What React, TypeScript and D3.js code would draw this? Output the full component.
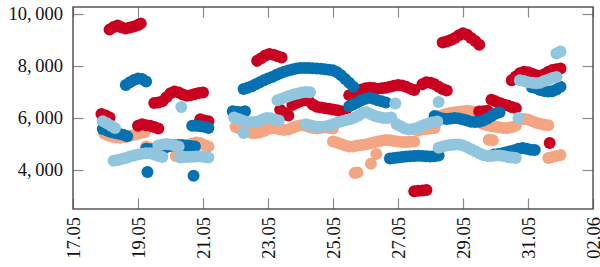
import { useEffect, useRef } from "react";
import * as d3 from "d3";

type Pt = [string, number];

const xTickLabels = ["17.05", "19.05", "21.05", "23.05", "25.05", "27.05", "29.05", "31.05", "02.06"];
const yTickValues = [4000, 6000, 8000, 10000];

// order = draw order (later on top)
const seriesNames = ["salmon", "red", "darkBlue", "lightBlue"];
const seriesColors = ["#f4a582", "#ca0020", "#0571b0", "#92c5de"];

const red: Pt[] = [
  ["17.05 21", 6150], ["18.05 00", 6100], ["18.05 03", 6020],
  ["18.05 03", 9400], ["18.05 06", 9500], ["18.05 09", 9560], ["18.05 12", 9480], ["18.05 15", 9440], ["18.05 18", 9480], ["18.05 21", 9520], ["19.05 00", 9580], ["19.05 02", 9640],
  ["19.05 00", 5700], ["19.05 03", 5760], ["19.05 06", 5720], ["19.05 09", 5700], ["19.05 12", 5650], ["19.05 15", 5600],
  ["19.05 12", 6580], ["19.05 15", 6600], ["19.05 18", 6640], ["19.05 21", 6800], ["20.05 00", 6950], ["20.05 03", 7020], ["20.05 06", 6980], ["20.05 09", 6900], ["20.05 12", 6860], ["20.05 15", 6880], ["20.05 18", 6920], ["20.05 21", 6960], ["21.05 00", 6980],
  ["20.05 22", 5950], ["21.05 01", 5900], ["21.05 04", 5880],
  ["22.05 16", 8200], ["22.05 19", 8300], ["22.05 22", 8400], ["23.05 01", 8460], ["23.05 04", 8430], ["23.05 07", 8380], ["23.05 10", 8330],
  ["23.05 09", 6320], ["23.05 12", 6200], ["23.05 15", 6100],
  ["23.05 18", 6500], ["23.05 21", 6580], ["24.05 00", 6640], ["24.05 03", 6680], ["24.05 06", 6660], ["24.05 09", 6520], ["24.05 12", 6430], ["24.05 15", 6400], ["24.05 18", 6380], ["24.05 21", 6360], ["25.05 00", 6330], ["25.05 03", 6300], ["25.05 06", 6260], ["25.05 09", 6230],
  ["25.05 12", 6880], ["25.05 15", 6960], ["25.05 18", 7040], ["25.05 21", 7100], ["26.05 00", 7140], ["26.05 03", 7160], ["26.05 06", 7150], ["26.05 09", 7130], ["26.05 12", 7140], ["26.05 15", 7160], ["26.05 18", 7200], ["26.05 21", 7240], ["27.05 00", 7270], ["27.05 03", 7250], ["27.05 06", 7200], ["27.05 09", 7130], ["27.05 12", 7080],
  ["27.05 12", 3180], ["27.05 15", 3200], ["27.05 18", 3210], ["27.05 21", 3230],
  ["27.05 18", 7300], ["27.05 21", 7380], ["28.05 00", 7360], ["28.05 03", 7300], ["28.05 06", 7200], ["28.05 09", 7120], ["28.05 12", 7060],
  ["28.05 09", 8900], ["28.05 12", 8940], ["28.05 15", 9000], ["28.05 18", 9080], ["28.05 21", 9180], ["29.05 00", 9260], ["29.05 03", 9200], ["29.05 06", 9080], ["29.05 09", 8960], ["29.05 12", 8820],
  ["29.05 12", 6250], ["29.05 15", 6260], ["29.05 18", 6280],
  ["29.05 21", 6700], ["30.05 00", 6640], ["30.05 03", 6580], ["30.05 06", 6520], ["30.05 09", 6480], ["30.05 12", 6420], ["30.05 15", 6380],
  ["30.05 12", 7450], ["30.05 15", 7600], ["30.05 18", 7720], ["30.05 21", 7780], ["31.05 00", 7760], ["31.05 03", 7700], ["31.05 06", 7640], ["31.05 09", 7620], ["31.05 12", 7680], ["31.05 15", 7780], ["31.05 18", 7850], ["31.05 21", 7880], ["01.06 00", 7900],
  ["31.05 16", 5040],
];

const salmon: Pt[] = [
  ["17.05 23", 5400], ["18.05 02", 5330], ["18.05 05", 5280], ["18.05 08", 5250], ["18.05 11", 5240], ["18.05 14", 5260], ["18.05 17", 5300], ["18.05 20", 5340], ["18.05 23", 5380], ["19.05 02", 5420], ["19.05 05", 5450],
  ["19.05 06", 4900], ["19.05 09", 4850], ["19.05 12", 4800], ["19.05 15", 4760], ["19.05 18", 4720],
  ["20.05 04", 4540], ["20.05 07", 4700], ["20.05 10", 4850], ["20.05 13", 4950], ["20.05 16", 5020], ["20.05 19", 5060], ["20.05 22", 5040], ["21.05 01", 4960], ["21.05 04", 4900],
  ["22.05 00", 5650], ["22.05 03", 5600], ["22.05 06", 5520], ["22.05 09", 5460], ["22.05 12", 5420], ["22.05 15", 5420], ["22.05 18", 5440], ["22.05 21", 5500], ["23.05 00", 5580], ["23.05 03", 5620], ["23.05 06", 5600], ["23.05 09", 5560], ["23.05 12", 5540], ["23.05 15", 5560], ["23.05 18", 5620], ["23.05 21", 5680], ["24.05 00", 5720], ["24.05 03", 5700], ["24.05 06", 5660], ["24.05 09", 5620], ["24.05 12", 5600], ["24.05 15", 5620], ["24.05 18", 5640], ["24.05 21", 5620], ["25.05 00", 5600],
  ["25.05 00", 5100], ["25.05 03", 5060], ["25.05 06", 5000], ["25.05 09", 4940], ["25.05 12", 4900], ["25.05 15", 4900], ["25.05 18", 4940], ["25.05 21", 4960], ["26.05 00", 4980], ["26.05 03", 5020], ["26.05 06", 5060], ["26.05 09", 5100], ["26.05 12", 5130], ["26.05 15", 5150], ["26.05 18", 5140], ["26.05 21", 5120], ["27.05 00", 5100], ["27.05 03", 5080], ["27.05 06", 5080], ["27.05 09", 5090], ["27.05 12", 5100],
  ["25.05 16", 3880], ["25.05 18", 3900], ["26.05 04", 4240], ["26.05 08", 4620],
  ["27.05 15", 5520], ["27.05 18", 5560], ["27.05 21", 5580], ["28.05 00", 5600], ["28.05 03", 5620],
  ["28.05 06", 6080], ["28.05 09", 6120], ["28.05 12", 6160], ["28.05 15", 6200], ["28.05 18", 6220], ["28.05 21", 6240], ["29.05 00", 6260], ["29.05 03", 6280], ["29.05 06", 6260], ["29.05 09", 6220],
  ["29.05 15", 5760], ["29.05 18", 5720], ["29.05 21", 5680], ["30.05 00", 5660], ["30.05 03", 5640], ["30.05 06", 5620], ["30.05 09", 5620], ["30.05 12", 5640], ["30.05 15", 5700],
  ["30.05 21", 5960], ["31.05 00", 5940], ["31.05 03", 5880], ["31.05 06", 5820], ["31.05 09", 5780], ["31.05 12", 5740], ["31.05 15", 5720],
  ["29.05 19", 5160], ["29.05 22", 5140],
  ["31.05 15", 4460], ["31.05 18", 4500], ["31.05 21", 4540], ["01.06 00", 4580],
];

const darkBlue: Pt[] = [
  ["17.05 22", 5580], ["18.05 01", 5520], ["18.05 04", 5460], ["18.05 07", 5420], ["18.05 10", 5390], ["18.05 13", 5360], ["18.05 16", 5300],
  ["18.05 15", 7270], ["18.05 18", 7380], ["18.05 21", 7460], ["19.05 00", 7520], ["19.05 03", 7500], ["19.05 06", 7400],
  ["19.05 07", 3920],
  ["19.05 06", 4820], ["19.05 09", 4800], ["19.05 12", 4790], ["19.05 15", 4800], ["19.05 18", 4840], ["19.05 21", 4880], ["20.05 00", 4920], ["20.05 03", 4950], ["20.05 06", 4960], ["20.05 09", 4960], ["20.05 12", 4940], ["20.05 15", 4920], ["20.05 18", 4900],
  ["20.05 17", 3780],
  ["20.05 16", 5700], ["20.05 19", 5700], ["20.05 22", 5680], ["21.05 01", 5660], ["21.05 04", 5620],
  ["21.05 22", 6260], ["22.05 01", 6240], ["22.05 04", 6220], ["22.05 07", 6260],
  ["22.05 06", 7120], ["22.05 09", 7160], ["22.05 12", 7220], ["22.05 15", 7300], ["22.05 18", 7380], ["22.05 21", 7450], ["23.05 00", 7520], ["23.05 03", 7580], ["23.05 06", 7650], ["23.05 09", 7720], ["23.05 12", 7780], ["23.05 15", 7830], ["23.05 18", 7870], ["23.05 21", 7900], ["24.05 00", 7920], ["24.05 03", 7920], ["24.05 06", 7920], ["24.05 09", 7910], ["24.05 12", 7900], ["24.05 15", 7890], ["24.05 18", 7880], ["24.05 21", 7860], ["25.05 00", 7840], ["25.05 03", 7760], ["25.05 06", 7640], ["25.05 09", 7500], ["25.05 12", 7360], ["25.05 15", 7200],
  ["25.05 12", 6450], ["25.05 15", 6520], ["25.05 18", 6600], ["25.05 21", 6680], ["26.05 00", 6740], ["26.05 03", 6780], ["26.05 06", 6740], ["26.05 09", 6680], ["26.05 12", 6640], ["26.05 15", 6600],
  ["26.05 18", 4440], ["26.05 21", 4460], ["27.05 00", 4480], ["27.05 03", 4500], ["27.05 06", 4520], ["27.05 09", 4530], ["27.05 12", 4540], ["27.05 15", 4550], ["27.05 18", 4540], ["27.05 21", 4530], ["28.05 00", 4520], ["28.05 03", 4530], ["28.05 06", 4560],
  ["28.05 03", 6080], ["28.05 06", 6020], ["28.05 09", 5980], ["28.05 12", 5960], ["28.05 15", 5980], ["28.05 18", 6000], ["28.05 21", 5980], ["29.05 00", 5940], ["29.05 03", 5900], ["29.05 06", 5860], ["29.05 09", 5850], ["29.05 12", 5860], ["29.05 15", 5900], ["29.05 18", 5980], ["29.05 21", 6080], ["30.05 00", 6160], ["30.05 03", 6220],
  ["29.05 23", 4600], ["30.05 02", 4620], ["30.05 05", 4640], ["30.05 08", 4680], ["30.05 11", 4720], ["30.05 14", 4760], ["30.05 17", 4820], ["30.05 20", 4850], ["30.05 23", 4820], ["31.05 02", 4780], ["31.05 05", 4770],
  ["31.05 03", 7180], ["31.05 06", 7140], ["31.05 09", 7080], ["31.05 12", 7040], ["31.05 15", 7020], ["31.05 18", 7030], ["31.05 21", 7100], ["01.06 00", 7200],
];

const lightBlue: Pt[] = [
  ["17.05 22", 5880], ["18.05 01", 5800], ["18.05 04", 5700], ["18.05 07", 5620],
  ["18.05 06", 4360], ["18.05 09", 4380], ["18.05 12", 4420], ["18.05 15", 4460], ["18.05 18", 4520], ["18.05 21", 4560], ["19.05 00", 4600], ["19.05 03", 4630], ["19.05 06", 4640], ["19.05 09", 4640], ["19.05 12", 4600], ["19.05 15", 4540], ["19.05 18", 4500],
  ["19.05 15", 4940], ["19.05 18", 4980], ["19.05 21", 5000], ["20.05 00", 4980], ["20.05 03", 4940], ["20.05 06", 4900],
  ["20.05 08", 6420],
  ["20.05 07", 4480], ["20.05 10", 4500], ["20.05 13", 4500], ["20.05 16", 4510], ["20.05 19", 4520], ["20.05 22", 4520], ["21.05 01", 4500], ["21.05 04", 4480],
  ["21.05 23", 6020], ["22.05 02", 5960], ["22.05 05", 5900], ["22.05 08", 5860], ["22.05 11", 5840], ["22.05 14", 5850], ["22.05 17", 5880], ["22.05 20", 5940], ["22.05 23", 6000], ["23.05 02", 5990], ["23.05 05", 5940], ["23.05 08", 5900],
  ["22.05 06", 5420],
  ["23.05 07", 6680], ["23.05 10", 6740], ["23.05 13", 6800], ["23.05 16", 6860], ["23.05 19", 6900], ["23.05 22", 6940], ["24.05 01", 6980], ["24.05 04", 7000], ["24.05 07", 6990],
  ["24.05 04", 5760], ["24.05 07", 5720], ["24.05 10", 5680], ["24.05 13", 5660], ["24.05 16", 5660], ["24.05 19", 5680], ["24.05 22", 5720], ["25.05 01", 5780], ["25.05 04", 5840], ["25.05 07", 5880], ["25.05 10", 5920], ["25.05 13", 5960], ["25.05 16", 6020], ["25.05 19", 6100], ["25.05 22", 6200], ["26.05 01", 6220], ["26.05 04", 6140], ["26.05 07", 6080], ["26.05 10", 6040], ["26.05 13", 6000], ["26.05 16", 6000], ["26.05 19", 6020],
  ["26.05 22", 6560],
  ["26.05 23", 5760], ["27.05 02", 5680], ["27.05 05", 5600], ["27.05 08", 5560], ["27.05 11", 5580], ["27.05 14", 5620], ["27.05 17", 5680], ["27.05 20", 5740], ["27.05 23", 5800], ["28.05 02", 5840], ["28.05 05", 5870],
  ["28.05 06", 6620],
  ["28.05 06", 4860], ["28.05 09", 4900], ["28.05 12", 4940], ["28.05 15", 4960], ["28.05 18", 4980], ["28.05 21", 4980], ["29.05 00", 4940], ["29.05 03", 4880], ["29.05 06", 4800], ["29.05 09", 4720], ["29.05 12", 4640], ["29.05 15", 4580], ["29.05 18", 4540], ["29.05 21", 4540], ["30.05 00", 4560], ["30.05 03", 4560], ["30.05 06", 4540], ["30.05 09", 4500], ["30.05 12", 4480], ["30.05 15", 4460],
  ["30.05 17", 6000],
  ["30.05 18", 7450], ["30.05 21", 7420], ["31.05 00", 7380], ["31.05 03", 7360], ["31.05 06", 7340], ["31.05 09", 7360], ["31.05 12", 7420], ["31.05 15", 7480], ["31.05 18", 7540], ["31.05 21", 7580],
  ["31.05 21", 8480], ["01.06 00", 8560],
];

const seriesData = [salmon, red, darkBlue, lightBlue];

export default function App() {
  const svgRef = useRef<SVGSVGElement | null>(null);

  useEffect(() => {
    if (!svgRef.current) return;
    const width = 600;
    const height = 267;
    const margin = { top: 7, right: 7, bottom: 58, left: 73 };
    const innerW = width - margin.left - margin.right;
    const innerH = height - margin.top - margin.bottom;

    const parse = d3.timeParse("%d.%m %H");
    const parseDay = d3.timeParse("%d.%m");

    d3.select(svgRef.current).selectAll("*").remove();
    const svg = d3
      .select<SVGSVGElement, unknown>(svgRef.current)
      .attr("width", width)
      .attr("height", height)
      .append("g")
      .attr("transform", `translate(${margin.left},${margin.top})`);

    const xTicks = xTickLabels.map((s) => parseDay(s) as Date);
    const x = d3
      .scaleTime()
      .domain([xTicks[0], xTicks[xTicks.length - 1]])
      .range([0, innerW]);
    const y = d3.scaleLinear().domain([2500, 10270]).range([innerH, 0]);

    // markers
    seriesData.forEach((pts, i) => {
      svg
        .append("g")
        .attr("class", seriesNames[i])
        .selectAll("circle")
        .data(pts)
        .enter()
        .append("circle")
        .attr("cx", (d) => x(parse(d[0]) as Date))
        .attr("cy", (d) => y(d[1]))
        .attr("r", 6)
        .attr("fill", seriesColors[i]);
    });

    const tickLen = 10.5;
    const fmt = (v: number) => d3.format(",")(v).replace(",", ",\u2009");
    const font = "'Liberation Serif', 'Times New Roman', serif";

    const bottom = svg
      .append("g")
      .attr("transform", `translate(0,${innerH})`)
      .call(
        d3
          .axisBottom<Date>(x)
          .tickValues(xTicks)
          .tickSize(-tickLen)
          .tickFormat(d3.timeFormat("%d.%m"))
      );
    bottom
      .selectAll("text")
      .attr("transform", "rotate(-90)")
      .attr("text-anchor", "end")
      .attr("x", -8)
      .attr("y", 0)
      .attr("dy", "0.33em");

    svg
      .append("g")
      .call(d3.axisTop<Date>(x).tickValues(xTicks).tickSize(-tickLen).tickFormat(() => ""));

    svg
      .append("g")
      .call(d3.axisLeft(y).tickValues(yTickValues).tickSize(-tickLen).tickPadding(10).tickFormat((v) => fmt(v as number)));

    svg
      .append("g")
      .attr("transform", `translate(${innerW},0)`)
      .call(d3.axisRight(y).tickValues(yTickValues).tickSize(-tickLen).tickFormat(() => ""));

    svg.selectAll(".domain").remove();
    svg.selectAll(".tick line").attr("stroke", "#8a8a8a").attr("stroke-width", 1.2);
    svg
      .selectAll(".tick text")
      .attr("fill", "#111")
      .style("font-family", font)
      .style("font-size", "18.5px");

    svg
      .append("rect")
      .attr("width", innerW)
      .attr("height", innerH)
      .attr("fill", "none")
      .attr("stroke", "#4a4a4a")
      .attr("stroke-width", 1.4);
  }, []);

  return (
    <div style={{ position: "absolute", left: 0, top: 0 }}>
      <svg ref={svgRef} style={{ display: "block" }}></svg>
    </div>
  );
}
